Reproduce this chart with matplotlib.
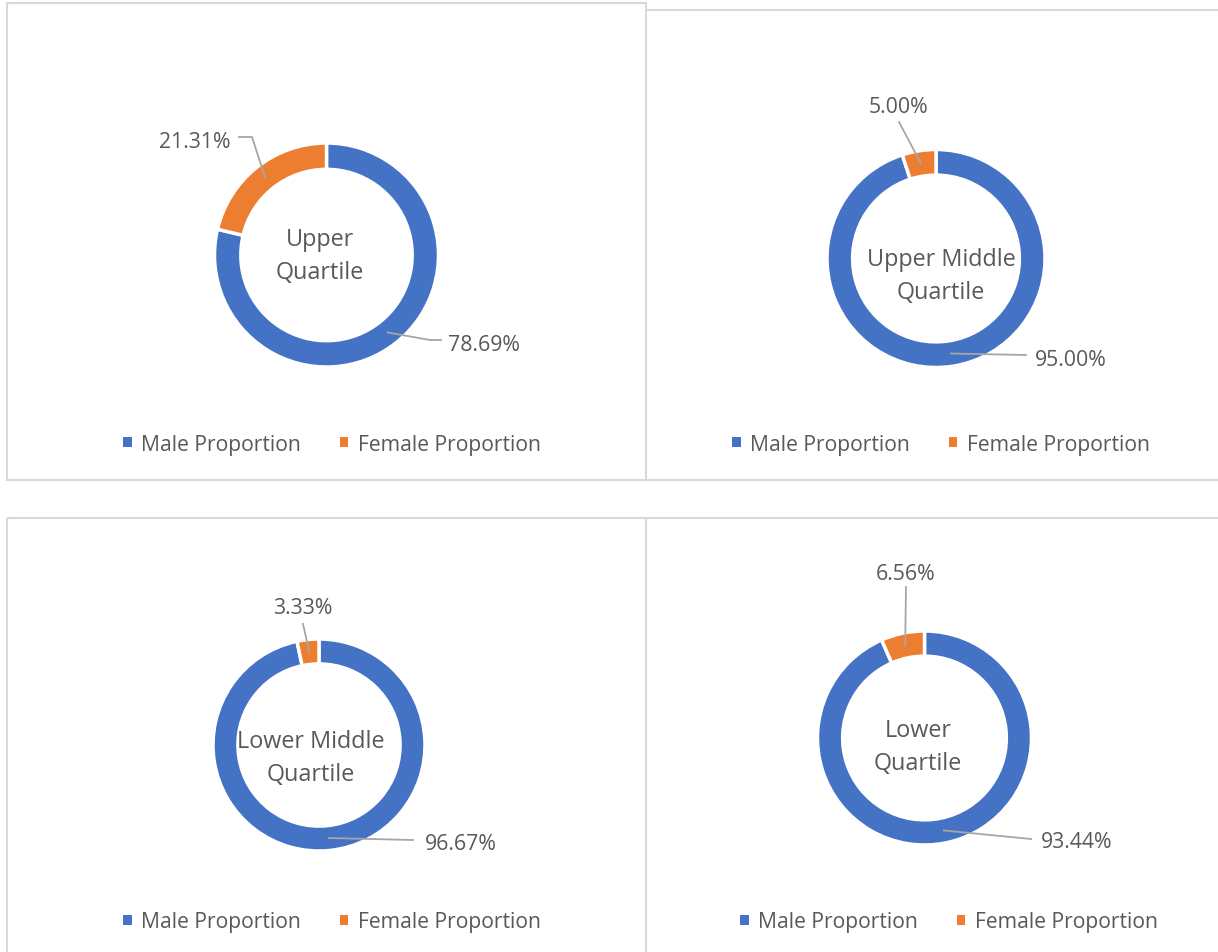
import numpy as np
import matplotlib
matplotlib.use("Agg")
import matplotlib.pyplot as plt
from matplotlib.patches import Rectangle, Patch

# ---------------- data ----------------
quartiles = ["Upper\nQuartile", "Upper Middle\nQuartile",
             "Lower Middle\nQuartile", "Lower\nQuartile"]
series = ["Male Proportion", "Female Proportion"]
male_pct = [78.69, 95.00, 96.67, 93.44]
female_pct = [21.31, 5.00, 3.33, 6.56]

# ---------------- style / layout ----------------
W, H = 1218, 953
FONT = "Open Sans"
TXT = "#595959"
COLORS = ["#4472C4", "#ED7D31"]
LEADER = "#A6A6A6"
BORDER = "#D9D9D9"
RING = 0.235

plt.rcParams["font.family"] = [FONT, "DejaVu Sans"]

# per panel layout in pixel coordinates
centers = [(326.5, 256), (936, 259.5), (319, 746), (924.5, 739)]
radii = [112, 109, 106, 107]
center_text = [(320, 256.5), (941, 276.5), (311, 758.5), (918, 747.5)]
# label text centres: (male, female)
male_lbl = [(484, 346), (1071, 360), (461, 845), (1077, 843)]
female_lbl = [(195, 143), (899, 107), (303, 609), (906, 575)]
# leader start points (text side), possibly with elbows
male_lead = [[(441, 341), (430, 341)], [(1026, 356)], [(413, 841)], [(1031, 840)]]
female_lead = [[(239, 138), (252, 138)], [(899, 123)], [(303, 625)], [(906, 588)]]
legend_pos = [(332, 445), (941, 445), (332, 923), (949, 923)]

fig = plt.figure(figsize=(W / 100, H / 100), dpi=100)

# background / borders
bg = fig.add_axes([0, 0, 1, 1])
bg.set_xlim(0, W)
bg.set_ylim(H, 0)
bg.axis("off")
for (x0, y0, x1, y1) in [(6.5, 4, 646, 481), (646, 11, 1225, 481),
                         (6.5, 519, 646, 960), (646, 519, 1225, 960)]:
    bg.add_patch(Rectangle((x0, y0), x1 - x0, y1 - y0, fill=False,
                           edgecolor=BORDER, linewidth=1.5))

for i in range(4):
    cx, cy = centers[i]
    r = radii[i]
    ax = fig.add_axes([(cx - r) / W, 1 - (cy + r) / H, 2 * r / W, 2 * r / H])
    wedges, _ = ax.pie([male_pct[i], female_pct[i]], colors=COLORS,
                       startangle=90, counterclock=False, radius=1.0,
                       wedgeprops=dict(width=RING, edgecolor="white", linewidth=2.5))
    ax.set_xlim(-1, 1)
    ax.set_ylim(-1, 1)
    ax.set_aspect("equal", adjustable="box")
    ax.axis("off")

    def P(px, py, cx=cx, cy=cy, r=r):
        return ((px - cx) / r, (cy - py) / r)

    ax.text(*P(*center_text[i]), quartiles[i], ha="center", va="center",
            fontsize=16.8, color=TXT, linespacing=1.47)

    vals = [male_pct[i], female_pct[i]]
    lbls = [male_lbl[i], female_lbl[i]]
    leads = [male_lead[i], female_lead[i]]
    for w, v, lp, ld in zip(wedges, vals, lbls, leads):
        mid = np.deg2rad((w.theta1 + w.theta2) / 2)
        rm = 1 - RING / 2
        anchor = (rm * np.cos(mid), rm * np.sin(mid))
        pts = [P(*p) for p in ld] + [anchor]
        xs, ys = zip(*pts)
        ax.plot(xs, ys, color=LEADER, linewidth=1.3, clip_on=False, zorder=5)
        ax.text(*P(*lp), f"{v:.2f}%", ha="center", va="center",
                fontsize=15.3, color=TXT)

    handles = [Patch(facecolor=c, edgecolor="none") for c in COLORS]
    lx, ly = legend_pos[i]
    fig.legend(handles, series, loc="center", bbox_to_anchor=(lx / W, 1 - ly / H),
               ncol=2, frameon=False, fontsize=15.2, labelcolor=TXT,
               handlelength=0.4, handleheight=0.4, handletextpad=0.45,
               columnspacing=1.85, borderpad=0, borderaxespad=0)

fig.savefig("out.png", dpi=100)
